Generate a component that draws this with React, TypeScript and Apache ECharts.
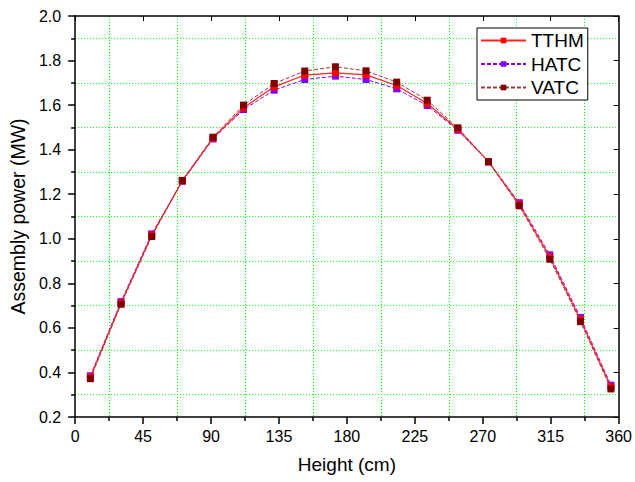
import React, { useEffect, useRef } from "react";
import * as echarts from "echarts";

const heights = [10.1, 30.4, 50.7, 71.0, 91.3, 111.5, 131.8, 152.1, 172.4, 192.7, 213.0, 233.2, 253.5, 273.8, 294.1, 314.4, 334.7, 354.9];
const tthm = [0.38, 0.712, 1.016, 1.26, 1.452, 1.588, 1.682, 1.735, 1.745, 1.736, 1.688, 1.607, 1.492, 1.346, 1.155, 0.918, 0.637, 0.335];
const hatc = [0.385, 0.718, 1.022, 1.258, 1.448, 1.58, 1.667, 1.715, 1.73, 1.715, 1.673, 1.598, 1.487, 1.346, 1.162, 0.928, 0.647, 0.343];
const vatc = [0.372, 0.706, 1.01, 1.262, 1.456, 1.6, 1.697, 1.753, 1.772, 1.754, 1.703, 1.622, 1.498, 1.345, 1.148, 0.908, 0.628, 0.326];
const seriesNames = ["TTHM", "HATC", "VATC"];

const FONT = "Liberation Sans, Arial, sans-serif";

export default function App() {
  const ref = useRef<HTMLDivElement>(null);
  useEffect(() => {
    document.body.style.margin = "0";
    const chart = echarts.init(ref.current!, undefined, { renderer: "svg" });
    const pairs = (ys: number[]) => heights.map((h, i) => [h, ys[i]]);
    const axisLine = { show: true, onZero: false, lineStyle: { color: "#000", width: 1.5 } };
    const gridLine = { show: true, lineStyle: { color: "#00ff00", type: [1, 2], width: 1 } };
    chart.setOption({
      animation: false,
      backgroundColor: "#fff",
      textStyle: { fontFamily: FONT, color: "#000" },
      grid: { left: 74, right: 14, top: 16, bottom: 65, containLabel: false },
      legend: {
        data: seriesNames,
        orient: "vertical",
        left: 477,
        top: 28,
        itemWidth: 45,
        itemHeight: 7,
        itemGap: 4.5,
        padding: [3, 4, 3, 3],
        borderColor: "#000",
        borderWidth: 1,
        backgroundColor: "#fff",
        textStyle: { fontSize: 19, fontFamily: FONT, color: "#000", padding: [0, 0, 0, 0] },
      },
      xAxis: [
        {
          type: "value",
          min: 0,
          max: 360,
          interval: 45,
          position: "bottom",
          axisLine,
          axisTick: { show: true, length: 7, lineStyle: { color: "#000", width: 1.5 } },
          minorTick: { show: true, splitNumber: 2, length: 4, lineStyle: { color: "#000", width: 1.5 } },
          splitLine: { show: false },
          minorSplitLine: gridLine,
          axisLabel: { fontSize: 16, color: "#000", margin: 11, fontFamily: FONT },
          name: "Height (cm)",
          nameLocation: "middle",
          nameGap: 38,
          nameTextStyle: { fontSize: 19, color: "#000", fontFamily: FONT },
        },
        {
          type: "value",
          min: 0,
          max: 360,
          interval: 45,
          position: "top",
          axisLine,
          axisTick: { show: true, inside: true, length: 5, lineStyle: { color: "#000", width: 1 } },
          axisLabel: { show: false },
          splitLine: { show: false },
        },
      ],
      yAxis: [
        {
          type: "value",
          min: 0.2,
          max: 2.0,
          interval: 0.2,
          position: "left",
          axisLine,
          axisTick: { show: true, length: 7, lineStyle: { color: "#000", width: 1.5 } },
          minorTick: { show: true, splitNumber: 2, length: 4, lineStyle: { color: "#000", width: 1.5 } },
          splitLine: { show: false },
          minorSplitLine: gridLine,
          axisLabel: {
            fontSize: 16,
            color: "#000",
            margin: 14,
            fontFamily: FONT,
            formatter: (v: number) => v.toFixed(1),
          },
          name: "Assembly power (MW)",
          nameLocation: "middle",
          nameGap: 40,
          nameTextStyle: { fontSize: 19.5, color: "#000", fontFamily: FONT },
        },
        {
          type: "value",
          min: 0.2,
          max: 2.0,
          interval: 0.2,
          position: "right",
          axisLine,
          axisTick: { show: true, inside: true, length: 5, lineStyle: { color: "#000", width: 1 } },
          axisLabel: { show: false },
          splitLine: { show: false },
        },
      ],
      series: [
        {
          name: "TTHM",
          type: "line",
          data: pairs(tthm),
          symbol: "rect",
          symbolSize: 7,
          itemStyle: { color: "#ff0000" },
          lineStyle: { color: "#ff2222", width: 1.2, type: "solid" },
          z: 3,
        },
        {
          name: "HATC",
          type: "line",
          data: pairs(hatc),
          symbol: "rect",
          symbolSize: 7,
          itemStyle: { color: "#8000ff" },
          lineStyle: { color: "#8000ff", width: 1, type: [4, 2] },
          z: 2,
        },
        {
          name: "VATC",
          type: "line",
          data: pairs(vatc),
          symbol: "rect",
          symbolSize: 7,
          itemStyle: { color: "#800000" },
          lineStyle: { color: "#a03a3a", width: 1, type: [4, 2] },
          z: 4,
        },
      ],
    });
    return () => chart.dispose();
  }, []);
  return <div ref={ref} style={{ width: 635, height: 482, position: "absolute", left: 0, top: 0 }} />;
}
